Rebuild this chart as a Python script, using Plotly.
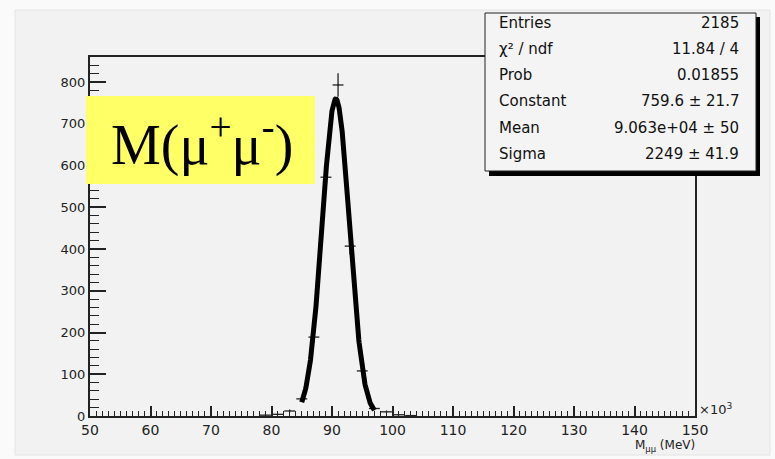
import numpy as np
import plotly.graph_objects as go

# ---- data ----
bin_centers = [79, 81, 83, 85, 87, 89, 91, 93, 95, 97, 99, 101, 103]
counts = [2, 4, 12, 41, 189, 572, 793, 407, 108, 18, 10, 3, 1]
bin_half_width = 0.9

fit_constant = 759.6
fit_mean = 90.63
fit_sigma = 2.249
fit_range = [85.0, 97.0]

stat_labels = ["Entries", "χ² / ndf", "Prob", "Constant", "Mean", "Sigma"]
stat_values = ["2185", "11.84 / 4", "0.01855", "759.6 ± 21.7", "9.063e+04 ± 50", "2249 ± 41.9"]

x_range = [50, 150]
y_range = [0, 860]

# ---- layout geometry (pixels) ----
W, H = 775, 459
L, R, T, B = 90, 695, 57, 416
FONT = "DejaVu Sans, Liberation Sans, Arial"


def px(x):
    return (x - L) / (R - L)


def py(y):
    return (B - y) / (B - T)


errs = [np.sqrt(c) for c in counts]
xf = np.linspace(fit_range[0], fit_range[1], 300)
yf = fit_constant * np.exp(-0.5 * ((xf - fit_mean) / fit_sigma) ** 2)

fig = go.Figure()
fig.add_trace(go.Scatter(
    x=bin_centers, y=counts, mode="markers",
    marker=dict(size=1, color="black"),
    error_y=dict(type="data", array=errs, color="#222", thickness=1.3, width=0),
    error_x=dict(type="constant", value=bin_half_width, color="#222", thickness=1.3, width=0),
    showlegend=False, hoverinfo="skip"))
fig.add_trace(go.Scatter(
    x=xf, y=yf, mode="lines", line=dict(color="black", width=5),
    showlegend=False, hoverinfo="skip"))

shapes = []
# outer canvas
shapes.append(dict(type="rect", xref="paper", yref="paper", layer="below",
                   x0=px(15), x1=px(770), y0=py(455), y1=py(10),
                   fillcolor="#f2f2f2", line=dict(color="#e4e4e4", width=1)))
# stats box shadow + box
shapes.append(dict(type="rect", xref="paper", yref="paper", layer="above",
                   x0=px(489), x1=px(760), y0=py(176), y1=py(17),
                   fillcolor="#000", line=dict(width=0)))
shapes.append(dict(type="rect", xref="paper", yref="paper", layer="above",
                   x0=px(485), x1=px(756), y0=py(171), y1=py(13),
                   fillcolor="#f4f4f4", line=dict(color="#222", width=1)))
# yellow label box
shapes.append(dict(type="rect", xref="paper", yref="paper", layer="above",
                   x0=px(86), x1=px(315), y0=py(184), y1=py(96),
                   fillcolor="#ffff66", line=dict(width=0)))

annotations = []
row_y = [23, 49, 75, 101, 128, 154]
for lab, val, yy in zip(stat_labels, stat_values, row_y):
    annotations.append(dict(xref="paper", yref="paper", x=px(497), y=py(yy),
                            text=lab, showarrow=False, xanchor="left", yanchor="middle",
                            font=dict(family=FONT, size=15, color="#111")))
    annotations.append(dict(xref="paper", yref="paper", x=px(741), y=py(yy),
                            text=val, showarrow=False, xanchor="right", yanchor="middle",
                            font=dict(family=FONT, size=15, color="#111")))

annotations.append(dict(xref="paper", yref="paper", x=px(202), y=py(141),
                        text="M(μ<sup>+</sup>μ<sup>-</sup>)", showarrow=False,
                        xanchor="center", yanchor="middle",
                        font=dict(family="Liberation Serif, Times New Roman", size=56, color="black")))
annotations.append(dict(xref="paper", yref="paper", x=px(697), y=py(409),
                        text="×10<sup>3</sup>", showarrow=False, xanchor="left", yanchor="middle",
                        font=dict(family=FONT, size=13, color="#222")))
annotations.append(dict(xref="paper", yref="paper", x=px(697), y=py(446),
                        text="M<sub>μμ</sub> (MeV)", showarrow=False, xanchor="right", yanchor="middle",
                        font=dict(family=FONT, size=12, color="#222")))

fig.update_layout(
    width=W, height=H,
    margin=dict(l=L, r=W - R, t=T, b=H - B),
    paper_bgcolor="#fafafa", plot_bgcolor="#f2f2f2",
    shapes=shapes, annotations=annotations,
    xaxis=dict(range=x_range, dtick=10, tick0=50, showgrid=False, zeroline=False,
               ticks="inside", ticklen=10, tickwidth=1.5, tickcolor="#222",
               minor=dict(dtick=1, ticks="inside", ticklen=5, tickwidth=1, tickcolor="#222"),
               showline=True, mirror=True, linecolor="#222", linewidth=2,
               tickfont=dict(family=FONT, size=14, color="#222")),
    yaxis=dict(range=y_range, dtick=100, tick0=0, showgrid=False, zeroline=False,
               ticks="inside", ticklen=16, tickwidth=1.5, tickcolor="#222",
               minor=dict(dtick=20, ticks="inside", ticklen=9, tickwidth=1, tickcolor="#222"),
               showline=True, mirror=True, linecolor="#222", linewidth=2,
               tickfont=dict(family=FONT, size=13, color="#222")),
)

fig.write_html("out.html")
